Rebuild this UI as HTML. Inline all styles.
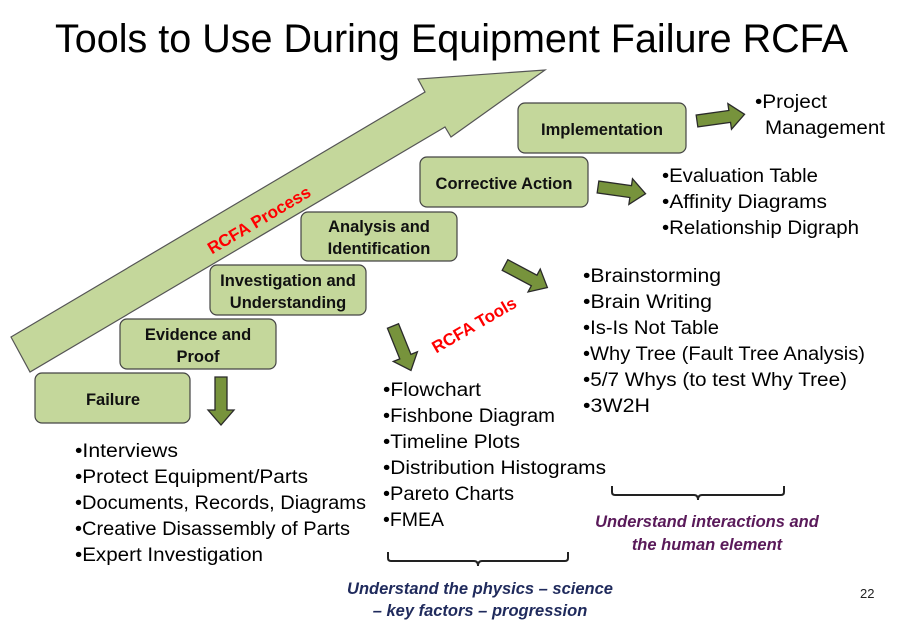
<!DOCTYPE html>
<html><head><meta charset="utf-8"><style>
html,body{margin:0;padding:0;background:#fff;}
svg{display:block;}
text{font-family:"Liberation Sans",sans-serif;}
</style></head><body>
<svg width="900" height="627" viewBox="0 0 900 627" xmlns="http://www.w3.org/2000/svg">
<defs>
<path id="sa" d="M0,-6 L33,-6 L33,-13 L48,0 L33,13 L33,6 L0,6 Z" fill="#77933c" stroke="#2a2a2a" stroke-width="1.3"/>
</defs>
<text x="55" y="52" font-size="40" textLength="793" lengthAdjust="spacingAndGlyphs" fill="#000">Tools to Use During Equipment Failure RCFA</text>

<polygon points="11,337 425,92 418,79 545,70 451,137 445,127 30,372" fill="#c4d79b" stroke="#555" stroke-width="1.2"/>
<text transform="translate(262,225) rotate(-30.6)" text-anchor="middle" font-size="17" font-weight="bold" fill="#ff0000">RCFA Process</text>

<g fill="#c4d79b" stroke="#444" stroke-width="1.2">
<rect x="35" y="373" width="155" height="50" rx="7"/>
<rect x="120" y="319" width="156" height="50" rx="7"/>
<rect x="210" y="265" width="156" height="50" rx="7"/>
<rect x="301" y="212" width="156" height="49" rx="7"/>
<rect x="420" y="157" width="168" height="50" rx="7"/>
<rect x="518" y="103" width="168" height="50" rx="7"/>
</g>
<g font-size="16.5" font-weight="bold" fill="#111" text-anchor="middle">
<text x="113" y="405">Failure</text>
<text x="198" y="340">Evidence and</text>
<text x="198" y="362">Proof</text>
<text x="288" y="286">Investigation and</text>
<text x="288" y="308">Understanding</text>
<text x="379" y="232">Analysis  and</text>
<text x="379" y="254">Identification</text>
<text x="504" y="189">Corrective Action</text>
<text x="602" y="135">Implementation</text>
</g>

<use href="#sa" transform="translate(221,377) rotate(90)"/>
<use href="#sa" transform="translate(393,326) rotate(68)"/>
<use href="#sa" transform="translate(505,265) rotate(28)"/>
<use href="#sa" transform="translate(598,187) rotate(8)"/>
<use href="#sa" transform="translate(697,121) rotate(-8)"/>

<text transform="translate(477,330) rotate(-30)" text-anchor="middle" font-size="17" font-weight="bold" fill="#ff0000">RCFA Tools</text>

<g font-size="19" fill="#000" lengthAdjust="spacingAndGlyphs">
<text x="75" y="457" textLength="103" lengthAdjust="spacingAndGlyphs">•Interviews</text>
<text x="75" y="483" textLength="233" lengthAdjust="spacingAndGlyphs">•Protect Equipment/Parts</text>
<text x="75" y="509" textLength="291" lengthAdjust="spacingAndGlyphs">•Documents, Records, Diagrams</text>
<text x="75" y="535" textLength="275" lengthAdjust="spacingAndGlyphs">•Creative Disassembly of Parts</text>
<text x="75" y="561" textLength="188" lengthAdjust="spacingAndGlyphs">•Expert Investigation</text>

<text x="383" y="396" textLength="98" lengthAdjust="spacingAndGlyphs">•Flowchart</text>
<text x="383" y="422" textLength="172" lengthAdjust="spacingAndGlyphs">•Fishbone Diagram</text>
<text x="383" y="448" textLength="137" lengthAdjust="spacingAndGlyphs">•Timeline Plots</text>
<text x="383" y="474" textLength="223" lengthAdjust="spacingAndGlyphs">•Distribution Histograms</text>
<text x="383" y="500" textLength="131" lengthAdjust="spacingAndGlyphs">•Pareto Charts</text>
<text x="383" y="526" textLength="61" lengthAdjust="spacingAndGlyphs">•FMEA</text>

<text x="583" y="282" textLength="138" lengthAdjust="spacingAndGlyphs">•Brainstorming</text>
<text x="583" y="308" textLength="129" lengthAdjust="spacingAndGlyphs">•Brain Writing</text>
<text x="583" y="334" textLength="136" lengthAdjust="spacingAndGlyphs">•Is-Is Not Table</text>
<text x="583" y="360" textLength="282" lengthAdjust="spacingAndGlyphs">•Why Tree (Fault Tree Analysis)</text>
<text x="583" y="386" textLength="264" lengthAdjust="spacingAndGlyphs">•5/7 Whys (to test Why Tree)</text>
<text x="583" y="412" textLength="67" lengthAdjust="spacingAndGlyphs">•3W2H</text>

<text x="662" y="182" textLength="156" lengthAdjust="spacingAndGlyphs">•Evaluation Table</text>
<text x="662" y="208" textLength="165" lengthAdjust="spacingAndGlyphs">•Affinity Diagrams</text>
<text x="662" y="234" textLength="197" lengthAdjust="spacingAndGlyphs">•Relationship Digraph</text>

<text x="755" y="108" textLength="72" lengthAdjust="spacingAndGlyphs">•Project</text>
<text x="765" y="134" textLength="120" lengthAdjust="spacingAndGlyphs">Management</text>
</g>

<g fill="none" stroke="#222" stroke-width="2">
<path d="M388,552 v6 q0,3 3,3 h83 q4,0 4,5 q0,-5 4,-5 h83 q3,0 3,-3 v-6"/>
<path d="M612,486 v6 q0,3 3,3 h79 q4,0 4,5 q0,-5 4,-5 h79 q3,0 3,-3 v-6"/>
</g>
<g font-size="16.5" font-weight="bold" font-style="italic" text-anchor="middle">
<text x="480" y="594" fill="#1f2a5c">Understand the physics – science</text>
<text x="480" y="616" fill="#1f2a5c">– key factors – progression</text>
<text x="707" y="527" fill="#5a1a5a">Understand interactions and</text>
<text x="707" y="550" fill="#5a1a5a">the human element</text>
</g>
<text x="860" y="598" font-size="13" fill="#222">22</text>
</svg>
</body></html>
